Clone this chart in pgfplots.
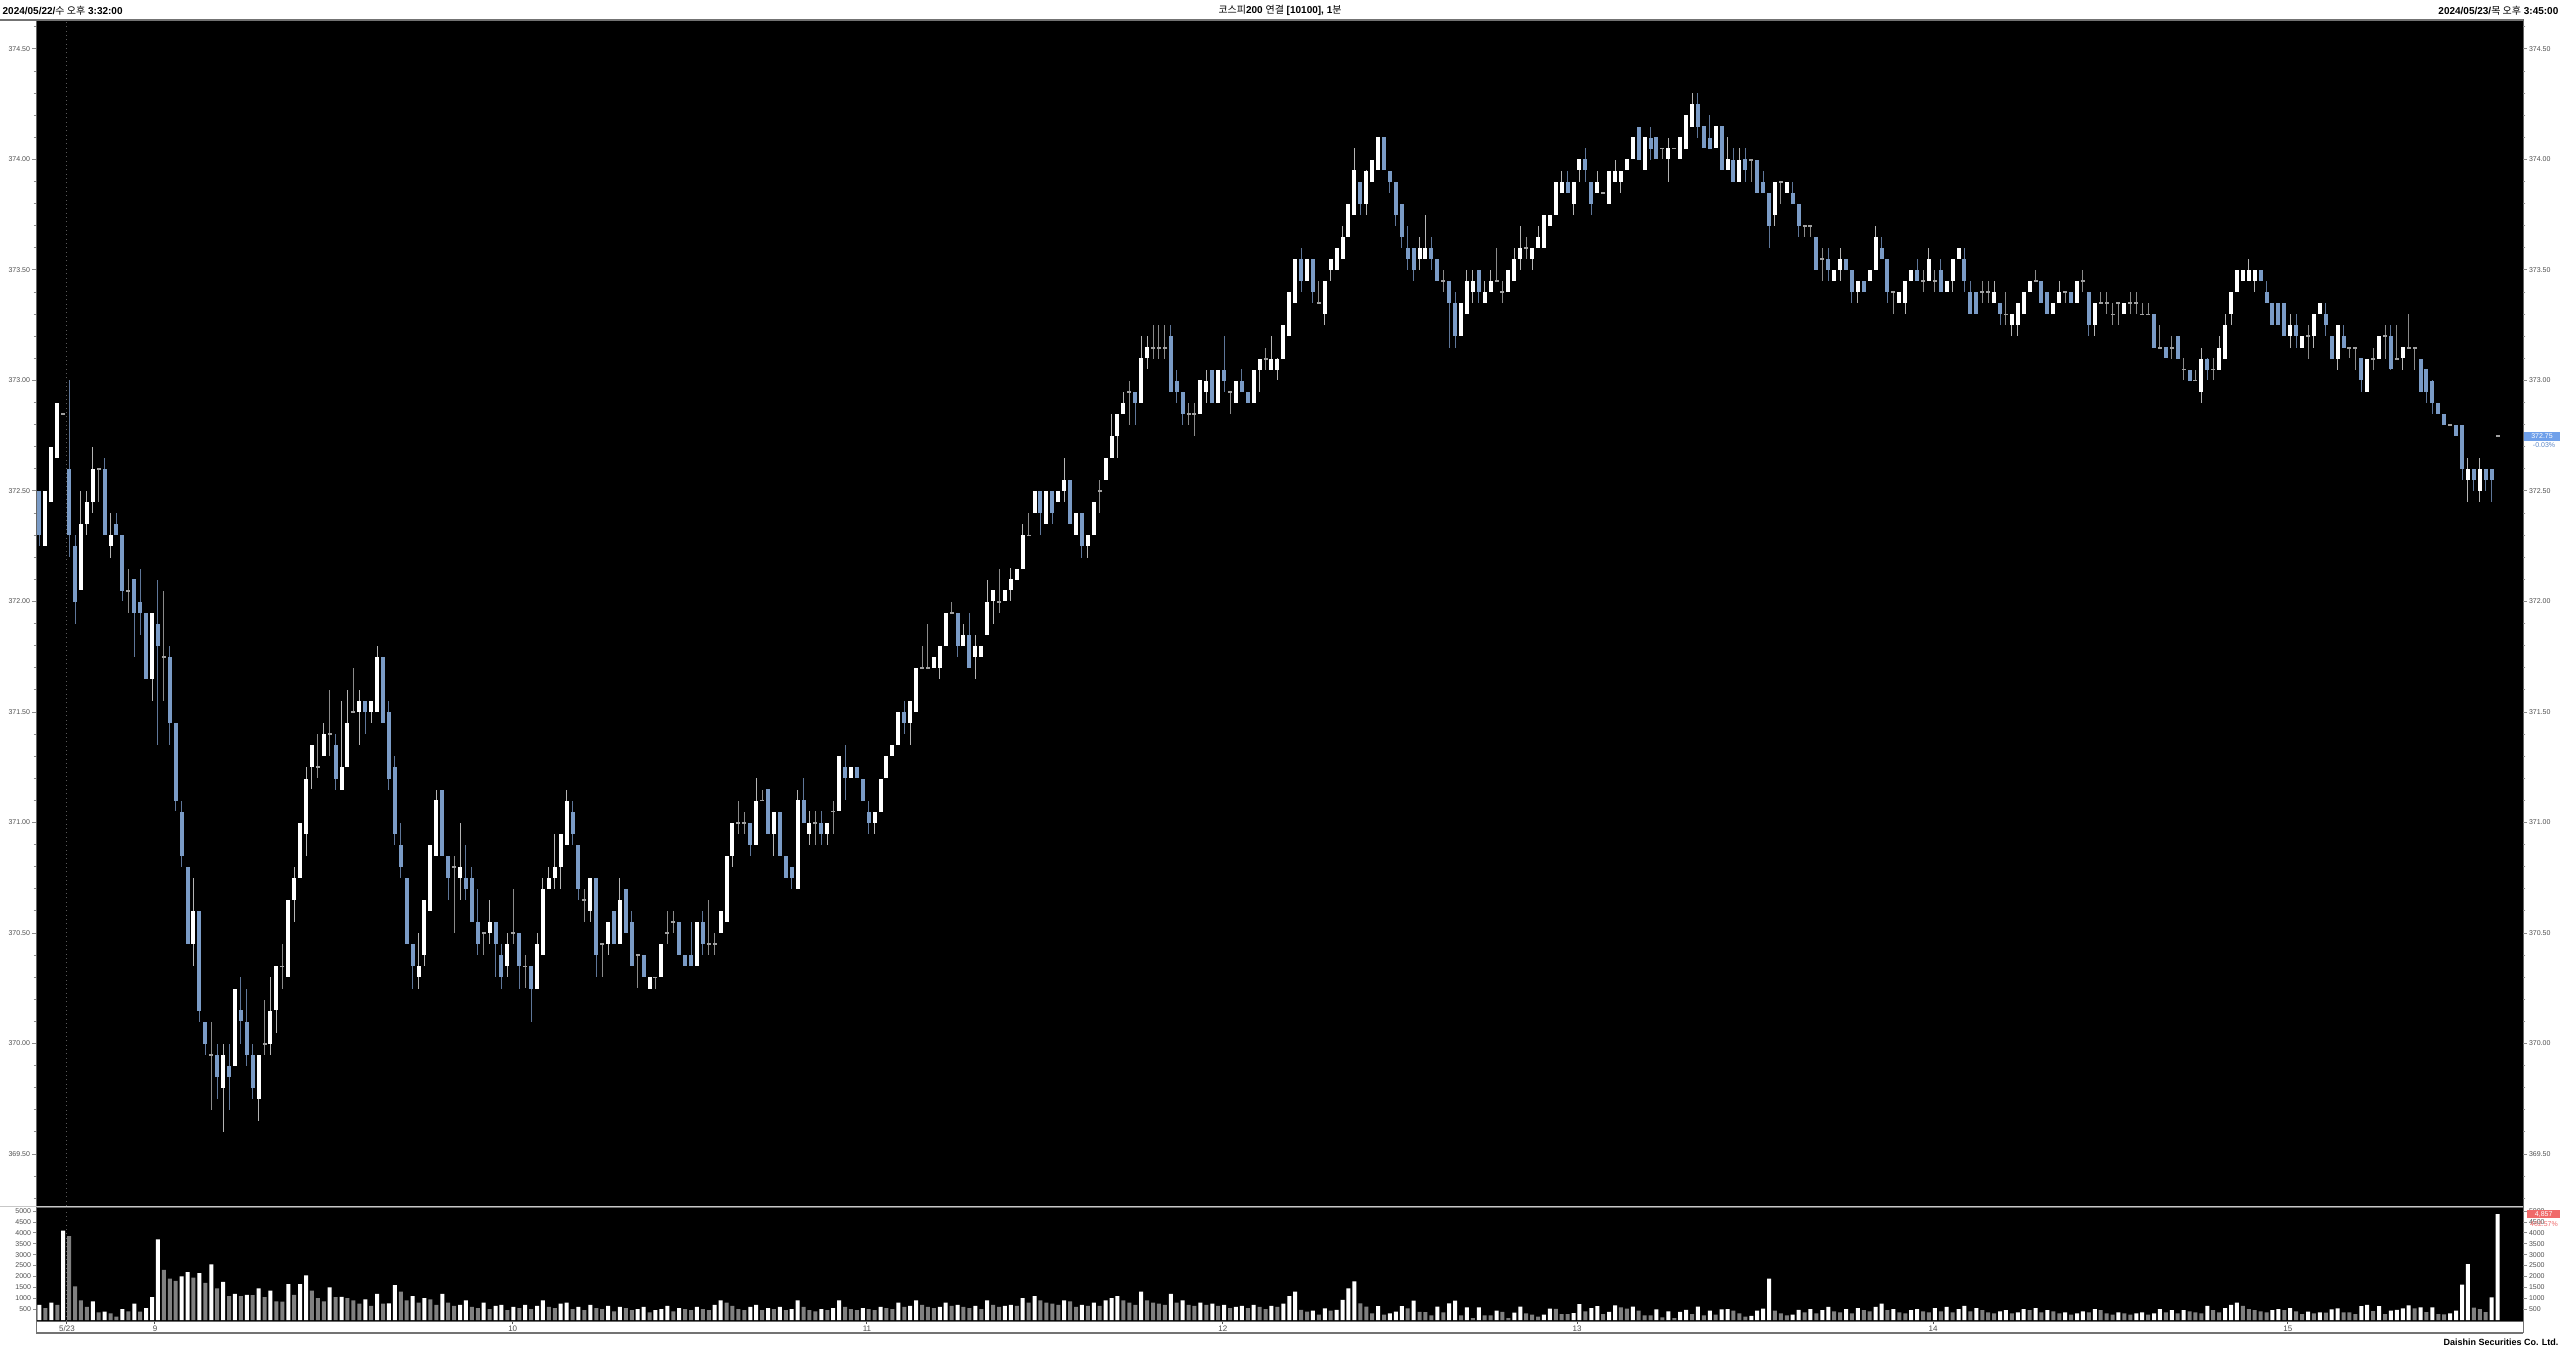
\documentclass[border=0pt]{standalone}
\usepackage{fontspec}
\setmainfont{Liberation Sans}
\newfontfamily\kr{Noto Sans CJK KR}
\usepackage{pgfplots}
\usepackage{pgfplotstable}
\pgfplotsset{compat=1.18}
\definecolor{upc}{HTML}{FFFFFF}
\definecolor{dnc}{HTML}{7A9BC6}
\definecolor{djc}{HTML}{A0A0A0}
\definecolor{wkup}{HTML}{B4B4B4}
\definecolor{wkdn}{HTML}{5E7699}
\definecolor{wkdj}{HTML}{8A8A8A}
\definecolor{volg}{HTML}{808080}
\definecolor{labc}{HTML}{505050}
\definecolor{tickc}{HTML}{8C8C8C}
\definecolor{curb}{HTML}{6FA0EA}
\definecolor{volr}{HTML}{F06A6A}

\pgfplotstableread{
o h l c v
372.50 372.50 372.25 372.30 700
372.25 372.50 372.25 372.50 550
372.45 372.70 372.45 372.70 800
372.65 372.90 372.65 372.90 700
372.85 372.85 372.85 372.85 4100
372.60 373.00 372.20 372.30 3850
372.25 372.30 371.90 372.00 1550
372.05 372.50 372.05 372.35 900
372.35 372.50 372.30 372.45 600
372.45 372.70 372.40 372.60 850
372.60 372.60 372.45 372.60 350
372.60 372.65 372.30 372.30 380
372.25 372.40 372.20 372.30 300
372.35 372.40 372.30 372.30 150
372.30 372.30 372.00 372.05 500
372.05 372.15 371.95 372.05 400
372.10 372.10 371.75 371.95 750
372.00 372.15 371.85 371.95 380
371.95 371.95 371.65 371.65 550
371.65 371.95 371.55 371.95 1050
371.90 372.10 371.35 371.80 3700
371.75 372.05 371.55 371.75 2300
371.75 371.80 371.35 371.45 1900
371.45 371.45 371.05 371.10 1800
371.05 371.10 370.80 370.85 2000
370.80 370.80 370.45 370.45 2200
370.45 370.75 370.35 370.60 1950
370.60 370.60 370.10 370.15 2150
370.10 370.10 369.95 370.00 1700
369.95 370.10 369.70 369.95 2550
369.95 370.00 369.75 369.85 1450
369.80 370.00 369.60 369.95 1750
369.90 370.00 369.70 369.85 1100
369.90 370.25 369.90 370.25 1200
370.15 370.30 370.00 370.10 1100
370.10 370.25 369.90 369.95 1150
369.95 370.00 369.75 369.80 1140
369.75 369.95 369.65 369.95 1450
370.00 370.20 369.95 370.00 1050
370.00 370.30 369.95 370.15 1350
370.15 370.35 370.05 370.35 850
370.35 370.45 370.25 370.35 840
370.30 370.65 370.30 370.65 1650
370.65 370.80 370.55 370.75 1150
370.75 371.00 370.75 371.00 1650
370.95 371.25 370.85 371.20 2050
371.25 371.35 371.15 371.35 1350
371.25 371.40 371.20 371.25 1000
371.30 371.45 371.30 371.40 850
371.40 371.60 371.30 371.40 1500
371.35 371.40 371.15 371.20 1050
371.15 371.55 371.15 371.25 1060
371.25 371.60 371.25 371.45 1000
371.50 371.70 371.50 371.50 900
371.50 371.60 371.35 371.55 750
371.55 371.55 371.40 371.50 950
371.50 371.55 371.45 371.55 650
371.50 371.80 371.50 371.75 1200
371.75 371.75 371.45 371.45 750
371.50 371.55 371.15 371.20 760
371.25 371.30 370.90 370.95 1600
370.90 371.00 370.75 370.80 1300
370.75 370.75 370.45 370.45 900
370.45 370.45 370.25 370.35 1100
370.30 370.50 370.25 370.35 800
370.40 370.65 370.35 370.65 1000
370.60 370.90 370.60 370.90 950
370.85 371.15 370.85 371.10 700
371.15 371.15 370.85 370.85 1200
370.85 370.85 370.65 370.75 800
370.80 370.85 370.50 370.80 650
370.75 371.00 370.65 370.80 700
370.75 370.90 370.65 370.70 900
370.75 370.80 370.55 370.55 600
370.55 370.70 370.40 370.45 550
370.50 370.50 370.40 370.50 800
370.50 370.65 370.45 370.55 500
370.55 370.55 370.30 370.45 650
370.40 370.45 370.25 370.30 700
370.35 370.50 370.30 370.45 450
370.50 370.70 370.45 370.50 600
370.50 370.50 370.25 370.35 550
370.35 370.40 370.25 370.35 700
370.35 370.35 370.10 370.25 500
370.25 370.50 370.25 370.45 650
370.40 370.75 370.40 370.70 900
370.70 370.80 370.70 370.75 600
370.75 370.95 370.70 370.80 550
370.80 370.95 370.70 370.95 750
370.90 371.15 370.90 371.10 800
371.05 371.10 370.90 370.95 500
370.90 370.90 370.65 370.70 600
370.65 370.70 370.55 370.65 450
370.60 370.75 370.55 370.75 700
370.75 370.75 370.30 370.40 550
370.45 370.45 370.30 370.45 500
370.45 370.55 370.40 370.55 650
370.60 370.60 370.45 370.45 400
370.45 370.75 370.45 370.65 600
370.70 370.70 370.50 370.50 550
370.55 370.60 370.35 370.35 450
370.40 370.40 370.25 370.40 500
370.40 370.40 370.30 370.30 600
370.25 370.30 370.25 370.30 350
370.30 370.30 370.25 370.30 450
370.30 370.45 370.30 370.45 500
370.50 370.60 370.45 370.50 650
370.55 370.60 370.50 370.55 400
370.55 370.55 370.40 370.40 550
370.40 370.40 370.35 370.35 500
370.40 370.55 370.35 370.35 450
370.35 370.55 370.35 370.55 600
370.55 370.60 370.40 370.45 500
370.45 370.65 370.40 370.45 450
370.45 370.50 370.40 370.45 700
370.50 370.60 370.50 370.60 900
370.55 370.85 370.55 370.85 800
370.85 371.00 370.80 371.00 650
371.00 371.10 370.95 371.00 500
371.00 371.05 370.95 371.00 450
371.00 371.00 370.85 370.90 600
370.90 371.20 370.90 371.10 700
371.10 371.15 371.10 371.10 450
371.15 371.15 370.95 370.95 550
370.95 371.05 370.85 371.05 500
371.05 371.05 370.85 370.85 600
370.85 370.85 370.75 370.75 450
370.80 370.80 370.70 370.75 500
370.70 371.15 370.70 371.10 900
371.10 371.20 371.00 371.00 600
370.95 371.05 370.90 371.00 450
371.00 371.05 370.90 371.00 400
371.00 371.05 370.90 370.95 500
370.95 371.00 370.90 371.00 450
371.05 371.10 370.95 371.05 550
371.05 371.30 371.05 371.30 900
371.25 371.35 371.10 371.20 600
371.20 371.25 371.20 371.25 500
371.25 371.25 371.20 371.20 450
371.20 371.20 371.10 371.10 550
371.05 371.10 370.95 371.00 500
371.00 371.05 370.95 371.05 450
371.05 371.20 371.05 371.20 600
371.20 371.30 371.20 371.30 550
371.30 371.35 371.30 371.35 500
371.35 371.50 371.35 371.50 800
371.50 371.55 371.40 371.45 600
371.45 371.55 371.35 371.55 650
371.50 371.70 371.50 371.70 900
371.70 371.80 371.70 371.70 700
371.70 371.90 371.70 371.70 600
371.70 371.75 371.70 371.75 550
371.70 371.80 371.65 371.80 600
371.80 371.95 371.80 371.95 800
371.95 372.00 371.95 371.95 650
371.95 371.95 371.75 371.80 700
371.80 371.90 371.80 371.85 600
371.85 371.95 371.70 371.70 550
371.75 371.85 371.65 371.80 650
371.75 371.80 371.75 371.80 500
371.85 372.10 371.85 372.00 900
372.00 372.05 371.90 372.05 700
372.00 372.15 371.95 372.00 600
372.00 372.05 372.00 372.05 650
372.05 372.15 372.00 372.10 700
372.10 372.15 372.10 372.15 650
372.15 372.35 372.15 372.30 1000
372.30 372.40 372.30 372.30 800
372.40 372.50 372.40 372.50 1100
372.50 372.50 372.30 372.40 900
372.35 372.50 372.35 372.50 800
372.50 372.50 372.35 372.40 750
372.45 372.50 372.45 372.50 700
372.50 372.65 372.45 372.55 900
372.55 372.55 372.35 372.35 850
372.30 372.40 372.30 372.40 600
372.40 372.40 372.20 372.25 700
372.25 372.30 372.20 372.30 650
372.30 372.45 372.30 372.45 800
372.50 372.55 372.40 372.50 650
372.55 372.65 372.55 372.65 900
372.65 372.85 372.65 372.75 1000
372.75 372.85 372.65 372.85 1100
372.85 372.95 372.85 372.90 900
372.95 373.00 372.80 372.95 800
372.95 372.95 372.80 372.90 700
372.90 373.20 372.90 373.10 1300
373.10 373.20 373.05 373.15 900
373.15 373.25 373.10 373.15 800
373.15 373.25 373.10 373.15 750
373.15 373.25 373.10 373.15 700
373.20 373.25 372.95 372.95 1200
373.00 373.05 372.90 372.95 800
372.95 372.95 372.80 372.85 900
372.85 372.90 372.80 372.85 700
372.85 372.90 372.75 372.85 650
372.85 373.00 372.85 373.00 800
372.95 373.05 372.90 373.00 700
373.05 373.05 372.90 372.90 750
372.90 373.05 372.90 373.05 650
373.05 373.20 372.95 373.00 700
372.95 372.95 372.85 372.95 550
372.90 373.00 372.90 373.00 600
373.00 373.05 372.95 372.95 650
372.95 372.95 372.90 372.90 550
372.90 373.05 372.90 373.05 700
373.05 373.10 372.95 373.10 600
373.10 373.15 373.05 373.10 500
373.05 373.20 373.05 373.10 650
373.05 373.10 373.00 373.10 600
373.10 373.25 373.10 373.25 750
373.20 373.40 373.20 373.40 1100
373.35 373.55 373.35 373.55 1300
373.55 373.60 373.40 373.45 460
373.45 373.55 373.45 373.55 380
373.55 373.55 373.35 373.40 430
373.35 373.45 373.35 373.35 245
373.30 373.45 373.25 373.45 535
373.50 373.55 373.45 373.55 430
373.50 373.60 373.50 373.60 460
373.55 373.70 373.55 373.65 920
373.65 373.80 373.65 373.80 1450
373.75 374.05 373.75 373.95 1775
373.90 373.90 373.75 373.80 765
373.80 373.95 373.75 373.95 610
373.90 374.00 373.90 374.00 305
373.95 374.10 373.95 374.10 640
374.10 374.10 373.95 373.95 245
373.95 373.95 373.85 373.90 305
373.90 373.90 373.70 373.75 380
373.80 373.80 373.60 373.65 640
373.60 373.70 373.50 373.55 535
373.60 373.60 373.45 373.50 890
373.55 373.65 373.50 373.60 370
373.55 373.75 373.55 373.60 360
373.60 373.65 373.50 373.55 215
373.55 373.55 373.45 373.45 610
373.45 373.50 373.40 373.45 350
373.45 373.45 373.15 373.35 765
373.35 373.40 373.15 373.20 890
373.20 373.35 373.20 373.35 215
373.30 373.50 373.30 373.45 580
373.40 373.50 373.35 373.45 90
373.50 373.50 373.35 373.40 580
373.35 373.45 373.35 373.40 215
373.40 373.50 373.40 373.45 210
373.45 373.60 373.45 373.45 430
373.40 373.45 373.35 373.40 370
373.40 373.50 373.40 373.50 90
373.45 373.60 373.45 373.55 340
373.55 373.70 373.50 373.60 610
373.60 373.65 373.55 373.60 305
373.55 373.60 373.50 373.60 245
373.60 373.70 373.60 373.65 150
373.60 373.75 373.60 373.75 245
373.70 373.75 373.70 373.75 520
373.75 373.90 373.75 373.90 510
373.85 373.95 373.85 373.90 275
373.90 373.95 373.85 373.85 270
373.80 373.90 373.75 373.90 320
373.95 374.00 373.90 374.00 735
374.00 374.05 373.90 373.95 400
373.90 373.90 373.75 373.80 550
373.85 373.95 373.85 373.90 640
373.85 373.85 373.85 373.85 275
373.80 373.95 373.80 373.95 370
373.90 374.00 373.90 373.95 675
373.90 373.95 373.85 373.95 580
373.95 374.00 373.95 374.00 520
374.00 374.10 374.00 374.10 610
374.15 374.15 374.00 374.00 430
373.95 374.10 373.95 374.10 215
374.10 374.15 374.00 374.05 210
374.10 374.10 374.00 374.00 490
374.05 374.05 374.00 374.05 120
374.00 374.10 373.90 374.05 400
374.05 374.05 374.05 374.05 90
374.00 374.10 374.00 374.10 370
374.05 374.20 374.05 374.20 460
374.15 374.30 374.15 374.25 275
374.25 374.30 374.10 374.15 610
374.15 374.15 374.05 374.05 215
374.10 374.20 374.05 374.05 430
374.05 374.15 374.05 374.15 245
374.15 374.15 373.95 373.95 490
373.95 374.10 373.95 374.00 495
374.00 374.05 373.90 373.90 430
373.90 374.05 373.90 374.00 305
374.00 374.05 373.90 373.95 150
374.00 374.00 373.90 374.00 185
374.00 374.00 373.85 373.85 430
373.90 373.95 373.85 373.85 520
373.85 373.85 373.60 373.70 1900
373.75 373.90 373.70 373.90 430
373.90 373.90 373.80 373.90 305
373.85 373.90 373.85 373.90 215
373.85 373.90 373.80 373.80 245
373.80 373.80 373.65 373.70 460
373.70 373.70 373.65 373.70 350
373.70 373.70 373.65 373.70 500
373.65 373.65 373.50 373.50 300
373.55 373.60 373.45 373.55 450
373.55 373.60 373.45 373.50 600
373.45 373.50 373.45 373.50 400
373.50 373.60 373.45 373.55 350
373.55 373.55 373.50 373.50 500
373.50 373.50 373.35 373.40 300
373.40 373.45 373.35 373.45 550
373.45 373.45 373.40 373.40 450
373.45 373.50 373.45 373.50 400
373.50 373.70 373.50 373.65 600
373.60 373.65 373.55 373.55 750
373.55 373.55 373.35 373.40 450
373.40 373.40 373.30 373.40 500
373.35 373.40 373.35 373.40 350
373.35 373.45 373.30 373.45 300
373.45 373.50 373.45 373.50 450
373.50 373.55 373.45 373.45 500
373.45 373.50 373.40 373.45 400
373.45 373.60 373.45 373.55 350
373.45 373.50 373.40 373.45 550
373.50 373.55 373.40 373.40 400
373.40 373.45 373.40 373.45 600
373.45 373.55 373.40 373.55 350
373.55 373.60 373.55 373.60 500
373.55 373.60 373.40 373.45 650
373.40 373.45 373.30 373.30 400
373.40 373.40 373.30 373.30 550
373.40 373.45 373.35 373.40 450
373.40 373.45 373.35 373.40 350
373.35 373.45 373.35 373.40 300
373.35 373.35 373.25 373.30 400
373.30 373.40 373.25 373.30 450
373.25 373.30 373.20 373.30 300
373.25 373.35 373.20 373.35 350
373.30 373.40 373.30 373.40 500
373.40 373.45 373.40 373.45 450
373.45 373.50 373.45 373.45 550
373.45 373.45 373.35 373.35 350
373.40 373.40 373.30 373.30 450
373.30 373.35 373.30 373.35 400
373.35 373.45 373.35 373.40 300
373.40 373.40 373.35 373.40 350
373.40 373.40 373.35 373.35 250
373.35 373.45 373.35 373.45 300
373.45 373.50 373.40 373.45 400
373.40 373.40 373.20 373.25 350
373.25 373.35 373.20 373.35 500
373.35 373.40 373.35 373.35 450
373.35 373.40 373.30 373.35 300
373.30 373.35 373.25 373.30 250
373.35 373.35 373.25 373.35 350
373.30 373.35 373.30 373.35 300
373.35 373.40 373.30 373.35 250
373.35 373.40 373.30 373.35 300
373.30 373.35 373.30 373.30 350
373.30 373.35 373.30 373.30 250
373.30 373.30 373.15 373.15 300
373.15 373.25 373.15 373.15 500
373.15 373.15 373.10 373.10 350
373.15 373.20 373.10 373.15 450
373.20 373.20 373.10 373.10 300
373.05 373.10 373.00 373.05 450
373.05 373.05 373.00 373.00 400
373.00 373.05 373.00 373.00 350
372.95 373.15 372.90 373.10 300
373.10 373.10 373.00 373.05 650
373.05 373.10 373.00 373.05 450
373.05 373.20 373.05 373.15 350
373.10 373.30 373.10 373.25 550
373.30 373.40 373.25 373.40 700
373.40 373.50 373.40 373.50 800
373.45 373.50 373.45 373.50 650
373.45 373.55 373.45 373.50 500
373.45 373.50 373.40 373.50 450
373.50 373.50 373.45 373.45 400
373.40 373.45 373.35 373.35 350
373.35 373.35 373.25 373.25 450
373.35 373.35 373.25 373.25 500
373.35 373.35 373.20 373.20 450
373.20 373.30 373.15 373.25 550
373.25 373.30 373.15 373.20 400
373.15 373.20 373.15 373.20 275
373.20 373.25 373.10 373.20 380
373.20 373.30 373.15 373.30 305
373.30 373.35 373.30 373.35 350
373.30 373.35 373.20 373.25 340
373.20 373.20 373.10 373.10 490
373.10 373.25 373.05 373.25 535
373.20 373.25 373.15 373.15 350
373.15 373.15 373.10 373.15 345
373.15 373.15 373.05 373.15 275
373.10 373.10 372.95 373.00 640
372.95 373.10 372.95 373.10 700
373.10 373.15 373.05 373.10 410
373.10 373.20 373.10 373.20 640
373.20 373.25 373.10 373.20 275
373.20 373.25 373.05 373.05 430
373.10 373.25 373.10 373.10 460
373.10 373.15 373.05 373.15 535
373.15 373.30 373.15 373.15 670
373.15 373.15 373.05 373.15 535
373.10 373.10 372.95 372.95 580
373.05 373.05 372.90 372.95 365
373.00 373.00 372.85 372.90 580
372.90 372.90 372.85 372.85 275
372.85 372.85 372.80 372.80 260
372.80 372.80 372.80 372.80 305
372.80 372.80 372.75 372.75 430
372.80 372.80 372.55 372.60 1620
372.55 372.65 372.45 372.60 2570
372.60 372.60 372.50 372.55 565
372.50 372.65 372.45 372.60 505
372.60 372.60 372.50 372.55 365
372.60 372.60 372.45 372.55 1040
372.75 372.75 372.75 372.75 4857
}\data
\pgfplotstablecreatecol[create col/expr accum={\pgfmathaccuma + 1}{-1}]{i}{\data}
\pgfplotstablecreatecol[create col/assign/.code={%
  \ifnum\pgfplotstablerow=0
    \def\entry{1}%
  \else
    \getthisrow{v}\cur
    \getprevrow{v}\prv
    \pgfmathparse{\cur>\prv ? 1 : 0}%
    \let\entry\pgfmathresult
  \fi
  \pgfkeyslet{/pgfplots/table/create col/next content}\entry}]{vu}{\data}

\pgfplotsset{
  isup/.style={x filter/.expression={\thisrow{c}-\thisrow{o}>0.01 ? x : nan}},
  isdn/.style={x filter/.expression={\thisrow{o}-\thisrow{c}>0.01 ? x : nan}},
  isdj/.style={x filter/.expression={abs(\thisrow{c}-\thisrow{o})<0.01 ? x : nan}},
  nomk/.style={only marks, mark=*, mark size=0pt, mark options={draw=none, fill=none, draw opacity=0, fill opacity=0}},
  wick/.style={nomk, error bars/.cd, y dir=both, y explicit, error mark=none, error bar style={line width=0.3pt, color=#1, solid, draw opacity=1}},
  body/.style={nomk, error bars/.cd, y dir=both, y explicit, error mark=none, error bar style={line width=1.2pt, color=#1, solid, draw opacity=1}},
  panel/.style={anchor=south west, scale only axis, width=746.1pt,
    xmin=-0.59, xmax=419.3, clip=true,
    tick align=outside, major tick length=1.2pt, minor tick length=0.7pt,
    every tick/.style={tickc, line width=0.3pt},
    axis line style={draw=black!60, line width=0.3pt},
    yticklabel style={font=\fontsize{2.1}{2.5}\selectfont, color=labc, inner sep=0.4pt},
    /pgf/number format/assume math mode=true},
}

\begin{document}
\begin{tikzpicture}
\useasboundingbox (0pt,0pt) rectangle (768pt,405pt);
\fill[white] (0pt,0pt) rectangle (768pt,405pt);

% ---------- price panel ----------
\begin{axis}[panel, at={(10.8pt,43.2pt)}, height=355.8pt,
  ymin=369.265, ymax=374.631,
  axis background/.style={fill=black},
  xtick=\empty,
  ytick={369.5,370,370.5,371,371.5,372,372.5,373,373.5,374,374.5},
  minor ytick={369.3,369.4,369.6,369.7,369.8,369.9,370.1,370.2,370.3,370.4,370.6,370.7,370.8,370.9,371.1,371.2,371.3,371.4,371.6,371.7,371.8,371.9,372.1,372.2,372.3,372.4,372.6,372.7,372.8,372.9,373.1,373.2,373.3,373.4,373.6,373.7,373.8,373.9,374.1,374.2,374.3,374.4,374.6},
  ytick pos=left, yticklabel pos=left,
  yticklabel={\pgfmathprintnumber[fixed, fixed zerofill, precision=2, assume math mode=true]{\tick}},
]
\addplot[densely dotted, line width=0.3pt, color=black!65, mark=none] coordinates {(4.64,369.265) (4.64,374.631)};
\addplot[isup, wick=wkup] table[x=i, y expr={(\thisrow{h}+\thisrow{l})/2}, y error expr={(\thisrow{h}-\thisrow{l})/2}] {\data};
\addplot[isdn, wick=wkdn] table[x=i, y expr={(\thisrow{h}+\thisrow{l})/2}, y error expr={(\thisrow{h}-\thisrow{l})/2}] {\data};
\addplot[isdj, wick=wkdj] table[x=i, y expr={(\thisrow{h}+\thisrow{l})/2}, y error expr={(\thisrow{h}-\thisrow{l})/2}] {\data};
\addplot[isup, body=upc] table[x=i, y expr={(\thisrow{o}+\thisrow{c})/2}, y error expr={max(abs(\thisrow{c}-\thisrow{o})/2,0.004)}] {\data};
\addplot[isdn, body=dnc] table[x=i, y expr={(\thisrow{o}+\thisrow{c})/2}, y error expr={max(abs(\thisrow{c}-\thisrow{o})/2,0.004)}] {\data};
\addplot[isdj, body=djc] table[x=i, y expr={(\thisrow{o}+\thisrow{c})/2}, y error expr={max(abs(\thisrow{c}-\thisrow{o})/2,0.004)}] {\data};
\end{axis}
% right-side price labels
\begin{axis}[panel, at={(10.8pt,43.2pt)}, height=355.8pt,
  ymin=369.265, ymax=374.631, axis line style={draw=none},
  xtick=\empty,
  ytick={369.5,370,370.5,371,371.5,372,372.5,373,373.5,374,374.5},
  minor ytick={369.3,369.4,369.6,369.7,369.8,369.9,370.1,370.2,370.3,370.4,370.6,370.7,370.8,370.9,371.1,371.2,371.3,371.4,371.6,371.7,371.8,371.9,372.1,372.2,372.3,372.4,372.6,372.7,372.8,372.9,373.1,373.2,373.3,373.4,373.6,373.7,373.8,373.9,374.1,374.2,374.3,374.4,374.6},
  ytick pos=right, yticklabel pos=right,
  yticklabel={\pgfmathprintnumber[fixed, fixed zerofill, precision=2, assume math mode=true]{\tick}},
]
\end{axis}

% ---------- volume panel ----------
\begin{axis}[panel, at={(10.8pt,8.7pt)}, height=34.2pt,
  ymin=-46, ymax=5189,
  axis background/.style={fill=black},
  ytick={500,1000,...,5000}, scaled y ticks=false,
  yticklabel={\pgfmathprintnumber[fixed, 1000 sep={}, assume math mode=true]{\tick}},
  ytick pos=left, yticklabel pos=left,
  xtick={4.64,19.5,79.9,139.7,199.8,259.6,319.7,379.6},
  xticklabels={5/23,9,10,11,12,13,14,15},
  xtick pos=bottom,
  x tick style={labc, line width=0.3pt}, major tick length=0.9pt,
  xticklabel style={font=\fontsize{2.4}{2.8}\selectfont, color=labc, inner sep=0pt, yshift=-0.3pt},
]
\addplot[densely dotted, line width=0.3pt, color=black!65, mark=none] coordinates {(4.64,-46) (4.64,5189)};
\addplot[ybar, bar width=1.2pt, bar shift=0pt, fill=upc, draw=none, mark=none, x filter/.expression={\thisrow{vu}>0.5 ? x : nan}] table[x=i, y=v] {\data};
\addplot[ybar, bar width=1.2pt, bar shift=0pt, fill=volg, draw=none, mark=none, x filter/.expression={\thisrow{vu}<0.5 ? x : nan}] table[x=i, y=v] {\data};
\end{axis}
\begin{axis}[panel, at={(10.8pt,8.7pt)}, height=34.2pt,
  ymin=-46, ymax=5189, axis line style={draw=none},
  ytick={500,1000,...,5000}, scaled y ticks=false,
  yticklabel={\pgfmathprintnumber[fixed, 1000 sep={}, assume math mode=true]{\tick}},
  ytick pos=right, yticklabel pos=right, xtick=\empty,
]
\end{axis}

% ---------- frame lines ----------
\draw[line width=0.6pt, color=black!55] (0pt,399pt) -- (756.9pt,399pt);
\draw[line width=0.3pt, color=black!22] (0pt,43.2pt) -- (756.9pt,43.2pt);
\draw[line width=0.35pt, color=black!55] (10.8pt,5.1pt) -- (756.9pt,5.1pt);
\draw[line width=0.3pt, color=black!55] (10.8pt,5.1pt) -- (10.8pt,8.7pt);
\draw[line width=0.3pt, color=black!55] (756.9pt,5.1pt) -- (756.9pt,8.7pt);

% ---------- header ----------
\node[anchor=west, inner sep=0pt] at (0.6pt,401.9pt)
  {\fontsize{3}{3.6}\selectfont\bfseries 2024/05/22/{\kr\mdseries 수 오후} 3:32:00};
\node[anchor=center, inner sep=0pt] at (384pt,401.9pt)
  {\fontsize{3}{3.6}\selectfont{\kr 코스피}\textbf{200} {\kr 연결} \textbf{[10100], 1}{\kr 분}};
\node[anchor=east, inner sep=0pt] at (767.7pt,401.9pt)
  {\fontsize{3}{3.6}\selectfont\bfseries 2024/05/23/{\kr\mdseries 목 오후} 3:45:00};
\node[anchor=east, inner sep=0pt] at (767.7pt,2.4pt)
  {\fontsize{2.7}{3.2}\selectfont\bfseries Daishin Securities Co. Ltd.};

% ---------- current value tags ----------
\fill[curb] (757.2pt,272.8pt) rectangle (768pt,275.3pt);
\node[inner sep=0pt, text=white] at (762.6pt,274.05pt) {\fontsize{2.1}{2.5}\selectfont 372.75};
\node[inner sep=0pt, text=curb!85!black] at (763.2pt,271.4pt) {\fontsize{2.1}{2.5}\selectfont -0.03\%};
\fill[volr] (758.1pt,39.6pt) rectangle (768pt,42.0pt);
\node[inner sep=0pt, text=white] at (763.1pt,40.8pt) {\fontsize{2.1}{2.5}\selectfont 4,857};
\node[inner sep=0pt, text=volr] at (763.2pt,37.8pt) {\fontsize{2.1}{2.5}\selectfont 462.57\%};
\end{tikzpicture}
\end{document}
